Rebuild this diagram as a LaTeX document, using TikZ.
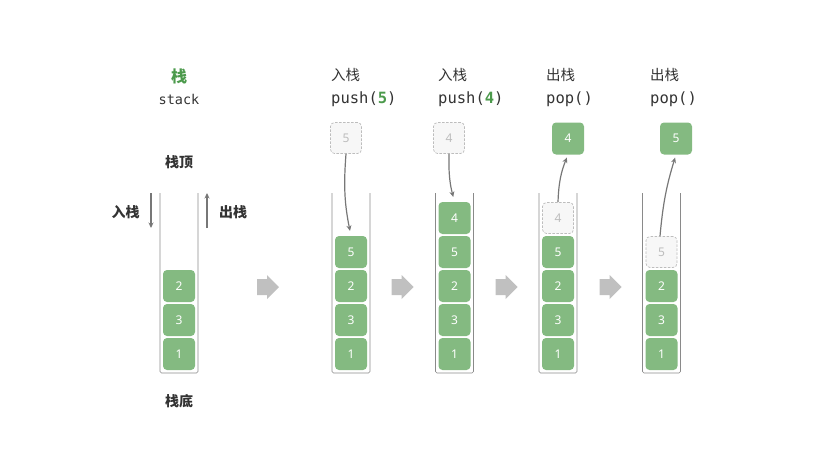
\documentclass[tikz,border=0pt]{standalone}
\usepackage{fontspec}
\setmainfont{Noto Sans}
\newfontfamily\cjk{Noto Sans CJK SC}
\setmonofont{DejaVu Sans Mono}
\usetikzlibrary{arrows.meta}
\definecolor{boxgreen}{HTML}{84BA81}
\definecolor{titlegreen}{HTML}{4C9A4C}
\definecolor{ghostfill}{HTML}{F7F7F7}
\definecolor{ghostline}{HTML}{BDBDBD}
\definecolor{txtdark}{HTML}{333333}
\definecolor{arrgray}{HTML}{777777}
\definecolor{blockgray}{HTML}{C0C0C0}
\definecolor{wallgray}{HTML}{8A8A8A}
\tikzset{
  elem/.style={fill=boxgreen, rounded corners=4pt, minimum width=32pt, minimum height=32pt, inner sep=0pt, text=white, font=\fontsize{12}{12}\selectfont},
  ghost/.style={fill=ghostfill, draw=ghostline, dash pattern=on 2.5pt off 1.5pt, line width=0.7pt, rounded corners=4pt, minimum width=31pt, minimum height=31pt, inner sep=0pt, text=ghostline, font=\fontsize{12}{12}\selectfont},
  wall/.style={draw=wallgray, line width=0.6pt, rounded corners=1.5pt},
  moveline/.style={draw=arrgray, line width=1.2pt, -{Stealth[length=5.5pt,width=5pt]}},
  blockarr/.pic={\fill[blockgray] (-11,-8) -- (-1,-8) -- (-1,-12) -- (11,0) -- (-1,12) -- (-1,8) -- (-11,8) -- cycle;},
  cjklabel/.style={font=\cjk\bfseries\fontsize{14}{14}\selectfont, text=txtdark, inner sep=0pt},
  oplabel/.style={font=\cjk\fontsize{14.5}{14.5}\selectfont, text=txtdark, inner sep=0pt, anchor=west},
  codelabel/.style={font=\ttfamily\fontsize{15.5}{15.5}\selectfont, text=txtdark, inner sep=0pt, anchor=west},
}
\begin{document}
\begin{tikzpicture}[x=1pt,y=-1pt]
\useasboundingbox (0,0) rectangle (816,458);

% ---------- column 1: the stack ----------
\node[font=\cjk\bfseries\fontsize{16}{16}\selectfont, text=titlegreen, inner sep=0pt] (title) at (179,76) {栈};
\node[font=\ttfamily\fontsize{13.5}{13.5}\selectfont, text=txtdark, inner sep=0pt] (titlesub) at (179,99) {stack};
\node[cjklabel] (top) at (179,162) {栈顶};
\node[cjklabel] (bottom) at (179,401) {栈底};
\draw[wall] (160,193) -- (160,373) -- (198,373) -- (198,193);
\node[elem] (a1) at (179,354) {1};
\node[elem] (a3) at (179,320) {3};
\node[elem] (a2) at (179,286) {2};
\coordinate (pushs) at (151,193);
\coordinate (pushe) at (151,228);
\coordinate (pops) at (207,228);
\coordinate (pope) at (207,193);
\draw[moveline] (pushs) -- (pushe);
\draw[moveline] (pops) -- (pope);
\node[cjklabel] (pushlbl) at (125.5,212) {入栈};
\node[cjklabel] (poplbl) at (233,212) {出栈};

% ---------- block arrows ----------
\pic at (268,287) {blockarr};
\pic at (402.5,287) {blockarr};
\pic at (506.5,287) {blockarr};
\pic at (610.5,287) {blockarr};

% ---------- column 2: push(5) ----------
\node[oplabel] (l2a) at (331,75) {入栈};
\node[codelabel] (l2b) at (331,99) {push(\textcolor{titlegreen}{\bfseries 5})};
\draw[wall] (332,193) -- (332,373) -- (370,373) -- (370,193);
\node[elem] (b1) at (351,354) {1};
\node[elem] (b3) at (351,320) {3};
\node[elem] (b2) at (351,286) {2};
\node[elem] (b5) at (351,252) {5};
\node[ghost] (p5) at (346,138) {5};
\draw[moveline, shorten >=5pt] (p5.south) to[bend right=8] (b5.north);

% ---------- column 3: push(4) ----------
\node[oplabel] (l3a) at (438,75) {入栈};
\node[codelabel] (l3b) at (438,99) {push(\textcolor{titlegreen}{\bfseries 4})};
\draw[wall] (435.5,193) -- (435.5,373) -- (473.5,373) -- (473.5,193);
\node[elem] (c1) at (454.5,354) {1};
\node[elem] (c3) at (454.5,320) {3};
\node[elem] (c2) at (454.5,286) {2};
\node[elem] (c5) at (454.5,252) {5};
\node[elem] (c4) at (454.5,218) {4};
\node[ghost] (p4) at (449,138) {4};
\draw[moveline, shorten >=5pt] (p4.south) to[bend right=8] (c4.north);

% ---------- column 4: pop() ----------
\node[oplabel] (l4a) at (546,75) {出栈};
\node[codelabel] (l4b) at (546,99) {pop()};
\draw[wall] (539,193) -- (539,373) -- (577,373) -- (577,193);
\node[elem] (d1) at (558,354) {1};
\node[elem] (d3) at (558,320) {3};
\node[elem] (d2) at (558,286) {2};
\node[elem] (d5) at (558,252) {5};
\node[ghost] (g4) at (558,218) {4};
\node[elem] (o4) at (568,138.5) {4};
\draw[moveline, shorten >=3pt] (g4.north) to[bend left=10] (o4.south);

% ---------- column 5: pop() ----------
\node[oplabel] (l5a) at (650,75) {出栈};
\node[codelabel] (l5b) at (650,99) {pop()};
\draw[wall] (642.5,193) -- (642.5,373) -- (680.5,373) -- (680.5,193);
\node[elem] (e1) at (661.5,354) {1};
\node[elem] (e3) at (661.5,320) {3};
\node[elem] (e2) at (661.5,286) {2};
\node[ghost] (g5) at (661.5,252) {5};
\node[elem] (o5) at (676,138.5) {5};
\draw[moveline, shorten >=3pt] ([xshift=-1.5pt]g5.north) to[bend left=6] (o5.south);
\end{tikzpicture}
\end{document}
